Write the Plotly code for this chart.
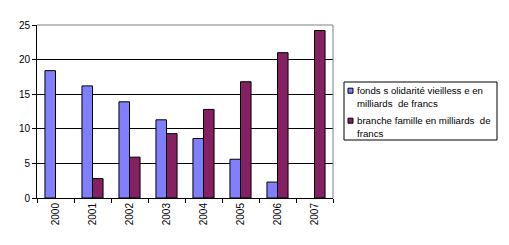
import plotly.graph_objects as go

years = ["2000", "2001", "2002", "2003", "2004", "2005", "2006", "2007"]
fonds_solidarite = [18.4, 16.2, 13.9, 11.3, 8.6, 5.6, 2.3, None]
branche_famille = [None, 2.8, 5.9, 9.3, 12.8, 16.8, 21.0, 24.2]
series_names = ["fonds s olidarité vieilless e en milliards de francs",
                "branche famille en milliards de francs"]
legend_lines = [["fonds s olidarité vieilless e en", "milliards  de francs"],
                ["branche famille en milliards  de", "francs"]]
colors = ["#8080FF", "#852162"]
y_ticks = [0, 5, 10, 15, 20, 25]

fig = go.Figure()
for vals, nm, col in zip([fonds_solidarite, branche_famille], series_names, colors):
    fig.add_trace(go.Bar(x=years, y=vals, name=nm, showlegend=False,
                         marker=dict(color=col, line=dict(color="black", width=1))))

font = "Liberation Sans, Arial, sans-serif"
# plot area in pixels: x 37..333, y 25..198
L, R, T, B = 37, 333, 25, 198
def px(x):
    return (x - L) / (R - L)
def py(y):
    return (B - y) / (B - T)

fig.update_layout(
    width=509, height=245,
    margin=dict(l=L, r=509 - R, t=T, b=245 - B),
    paper_bgcolor="white", plot_bgcolor="white",
    barmode="group", bargap=0.43, bargroupgap=0,
    font=dict(family=font, size=9, color="black"),
    showlegend=False,
    xaxis=dict(showline=True, linecolor="black", linewidth=1,
               ticks="outside", ticklen=4, tickcolor="black",
               tickson="boundaries", tickangle=-90,
               tickfont=dict(size=10), showgrid=False),
    yaxis=dict(range=[0, 25], tickvals=y_ticks, showline=True, linecolor="black",
               linewidth=1, ticks="outside", ticklen=4, tickcolor="black",
               showgrid=True, gridcolor="black", gridwidth=1,
               tickfont=dict(size=10), zeroline=False),
)
fig.add_shape(type="line", xref="paper", yref="paper", x0=0, x1=1, y0=1, y1=1,
              line=dict(color="#808080", width=1))
fig.add_shape(type="line", xref="paper", yref="paper", x0=1, x1=1, y0=0, y1=1,
              line=dict(color="#808080", width=1))

# legend box
fig.add_shape(type="rect", xref="paper", yref="paper",
              x0=px(344), x1=px(497), y0=py(140), y1=py(82),
              line=dict(color="black", width=1), fillcolor="white")
entry_tops = [90.7, 120.7]
for lines, col, y0 in zip(legend_lines, colors, entry_tops):
    fig.add_shape(type="rect", xref="paper", yref="paper",
                  x0=px(348), x1=px(353), y0=py(y0 + 2.5), y1=py(y0 - 2.5),
                  line=dict(color="black", width=1), fillcolor=col)
    for i, ln in enumerate(lines):
        fig.add_annotation(xref="paper", yref="paper", x=px(355), y=py(y0 + 12.3 * i),
                           xanchor="left", yanchor="middle", showarrow=False,
                           text=ln, font=dict(size=9.7, family=font, color="black"))
fig.write_html("out.html")
